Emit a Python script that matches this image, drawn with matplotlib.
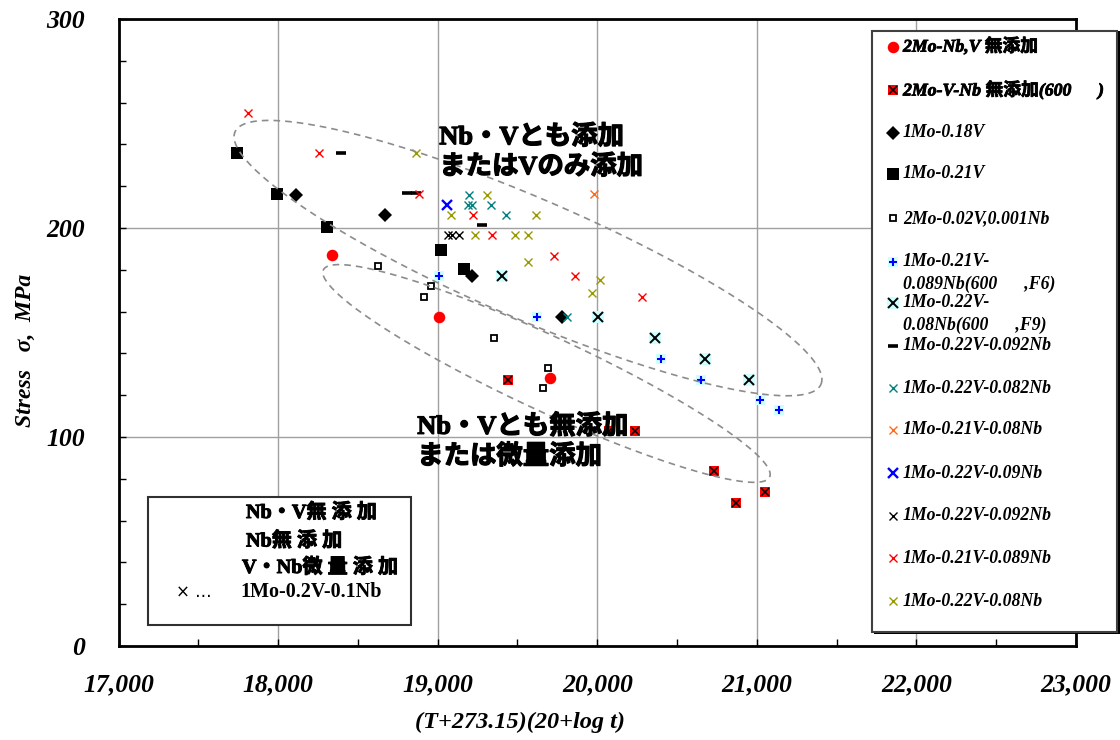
import numpy as np
import matplotlib.pyplot as plt
import matplotlib.patheffects as pe
from matplotlib.lines import Line2D
from matplotlib.patches import Rectangle
from matplotlib.ticker import MultipleLocator, FuncFormatter

SERIF = ['Liberation Serif', 'Noto Sans CJK JP']
BOLD = [pe.withStroke(linewidth=0.9, foreground='black')]

# Larson-Miller parameter (T+273.15)(20+log t) and rupture stress (MPa)
x_2mo_free = [18335, 19011, 19703]
y_2mo_free = [187, 157.6, 128]
x_2mo_free600 = [19440, 20076, 20239, 20731, 20867, 21049]
y_2mo_free600 = [127.5, 103, 103, 83.5, 68.4, 73.5]
x_018v = [18115, 18668, 19214, 19779]
y_018v = [216, 206, 177, 157.3]
x_021v = [17743, 17994, 18308, 19023, 19166]
y_021v = [236, 216.4, 200.4, 189.6, 180.2]
x_2mo_trace = [18628, 18957, 18915, 19350, 19689, 19663]
y_2mo_trace = [181.8, 172.3, 167.2, 147.5, 132.9, 123.3]
x_f6 = [19011, 19625, 20400, 20647, 21021, 21139]
y_f6 = [177, 157.3, 137.4, 127.5, 117.9, 112.7]
x_f9 = [19400, 20002, 20364, 20673, 20950]
y_f9 = [177, 157.3, 147.3, 137.4, 127.5]
x_092nb_a = [18392, 18810, 18862, 19277]
y_092nb_a = [236, 216.6, 216.6, 201.4]
x_082nb = [19197, 19187, 19214, 19333, 19427, 19810]
y_082nb = [216, 211, 211, 211, 206, 157.3]
x_021v_08nb = [19977]
y_021v_08nb = [216.4]
x_09nb = [19061]
y_09nb = [211]
x_092nb_b = [19067, 19092, 19134]
y_092nb_b = [196.5, 196.5, 196.5]
x_089nb = [17810, 18255, 18883, 19224, 19340, 19726, 19861, 20281]
y_089nb = [255, 236, 216.4, 206, 196.5, 186.4, 176.8, 166.9]
x_08nb = [18862, 19308, 19082, 19615, 19235, 19484, 19567, 19563, 20019, 19964]
y_08nb = [236, 216, 206, 206, 196.5, 196.5, 196.5, 183.8, 175, 168.8]

labels = ['2Mo-Nb,V 無添加', '2Mo-V-Nb 無添加(600      )', '1Mo-0.18V', '1Mo-0.21V',
          '2Mo-0.02V,0.001Nb', '1Mo-0.21V-\n0.089Nb(600      ,F6)',
          '1Mo-0.22V-\n0.08Nb(600      ,F9)', '1Mo-0.22V-0.092Nb', '1Mo-0.22V-0.082Nb',
          '1Mo-0.21V-0.08Nb', '1Mo-0.22V-0.09Nb', '1Mo-0.22V-0.092Nb',
          '1Mo-0.21V-0.089Nb', '1Mo-0.22V-0.08Nb']

xs = [x_2mo_free, x_2mo_free600, x_018v, x_021v, x_2mo_trace, x_f6, x_f9, x_092nb_a,
      x_082nb, x_021v_08nb, x_09nb, x_092nb_b, x_089nb, x_08nb]
ys = [y_2mo_free, y_2mo_free600, y_018v, y_021v, y_2mo_trace, y_f6, y_f9, y_092nb_a,
      y_082nb, y_021v_08nb, y_09nb, y_092nb_b, y_089nb, y_08nb]

# list of marker layers per series (drawn in order)
def xm(c, ms=6.3, mew=1.0):
    return [dict(marker='x', color=c, ms=ms, mew=mew)]

styles = [
    [dict(marker='o', color='#ff0000', ms=8.3, mew=0)],
    [dict(marker='s', color='#ff0000', ms=7.7, mew=0), dict(marker='x', color='black', ms=6, mew=1.1)],
    [dict(marker='D', color='black', ms=7.2, mew=0)],
    [dict(marker='s', color='black', ms=8, mew=0)],
    [dict(marker='s', color='black', mfc='white', ms=4.8, mew=1.3)],
    [dict(marker='s', color='#ccffff', ms=7.3, mew=0), dict(marker='+', color='#0000ff', ms=5.5, mew=1.5)],
    [dict(marker='s', color='#ccffff', ms=8.3, mew=0), dict(marker='x', color='black', ms=6.5, mew=1.4)],
    [dict(marker='_', color='black', ms=7.5, mew=2.6)],
    xm('#008080'), xm('#ff6a1a'), xm('#0000ff', 6.5, 1.7), xm('black'), xm('#ff0000'), xm('#999900'),
]

W, H = 1120, 740
fig = plt.figure(figsize=(W / 100, H / 100), dpi=100)
L, T, R, B = 118.5, 19, 1076, 646
ax = fig.add_axes([L / W, 1 - B / H, (R - L) / W, (B - T) / H])
ax.set_xlim(17000, 23000)
ax.set_ylim(0, 300)

ax.xaxis.set_major_locator(MultipleLocator(1000))
ax.xaxis.set_minor_locator(MultipleLocator(500))
ax.yaxis.set_major_locator(MultipleLocator(100))
ax.yaxis.set_minor_locator(MultipleLocator(20))
ax.xaxis.set_major_formatter(FuncFormatter(lambda v, p: f'{v:,.0f}'))
ax.grid(True, which='major', color='#a0a0a0', lw=1.0)
ax.tick_params(which='both', direction='in', length=5, width=1, color='black')
ax.tick_params(axis='x', which='major', pad=20)
ax.tick_params(axis='y', which='major', pad=24)
for lab in ax.get_xticklabels() + ax.get_yticklabels():
    lab.set_fontfamily(SERIF)
    lab.set_fontsize(18.5)
    lab.set_fontweight('bold')
    lab.set_fontstyle('italic')
for sp in ax.spines.values():
    sp.set_linewidth(2)

for x, y, st in zip(xs, ys, styles):
    for s in st:
        ax.plot(x, y, ls='none', marker=s['marker'], ms=s['ms'], mew=s['mew'],
                mec=s['color'], mfc=s.get('mfc', s['color']), zorder=3)

# dashed ellipses, size given in pixels, centre in data units
pos = ax.get_position()
sx = pos.width * W / 6000
sy = pos.height * H / 300

def ellipse(cx, cy, a, b, ang):
    t = np.linspace(0, 2 * np.pi, 400)
    th = np.radians(ang)
    u, v = a * np.cos(t), b * np.sin(t)
    dx = u * np.cos(th) - v * np.sin(th)
    dy = u * np.sin(th) + v * np.cos(th)
    ax.plot(cx + dx / sx, cy + dy / sy, color='#8c8c8c', lw=1.2, ls=(0, (4, 3)), zorder=4)

ellipse(19566, 185.6, 319, 60, -23.3)
ellipse(19682, 130.4, 246, 37, -24.9)

ax.text(19010, 236.5, 'Nb・Vとも添加\nまたはVのみ添加', family=SERIF, fontsize=19,
        fontweight='bold', va='center', ha='left', linespacing=1.25, zorder=5,
        path_effects=BOLD)
ax.text(18872, 98, 'Nb・Vとも無添加\nまたは微量添加', family=SERIF, fontsize=19,
        fontweight='bold', va='center', ha='left', linespacing=1.25, zorder=5,
        path_effects=BOLD)

fig.text(25 / W, 1 - 350 / H, 'Stress   σ,  MPa', rotation=90, family=SERIF, fontsize=17,
         fontweight='bold', fontstyle='italic', ha='center', va='center')
fig.text(520 / W, 1 - 722 / H, '(T+273.15)(20+log t)', family=SERIF, fontsize=17.5,
         fontweight='bold', fontstyle='italic', ha='center', va='center')

# right-hand legend box
fig.add_artist(Rectangle((874 / W, 1 - 634 / H), 246 / W, 603 / H, transform=fig.transFigure,
                         facecolor='black', edgecolor='none', zorder=5))
fig.add_artist(Rectangle((872 / W, 1 - 632 / H), 245 / W, 601 / H, transform=fig.transFigure,
                         facecolor='white', edgecolor='#404040', lw=1.5, zorder=6))
rows = [46.7, 90, 132.7, 174, 218.3, 261.7, 302.7, 346, 388.3, 430, 473.3, 516, 558.3, 601]
for ry, lab, st in zip(rows, labels, styles):
    for s in st:
        fig.add_artist(Line2D([893 / W], [1 - ry / H], transform=fig.transFigure, ls='none',
                              marker=s['marker'], ms=s['ms'], mew=s['mew'], mec=s['color'],
                              mfc=s.get('mfc', s['color']), zorder=7))
    for i, line in enumerate(lab.split('\n')):
        t = fig.text(903 / W, 1 - (ry + i * 22.5) / H, line, family=SERIF, fontsize=12.8,
                     fontweight='bold', fontstyle='italic', va='center', ha='left', zorder=7)
        if '無' in line:
            t.set_path_effects([pe.withStroke(linewidth=0.6, foreground='black')])

# small note box at lower left
fig.add_artist(Rectangle((148 / W, 1 - 625 / H), 263 / W, 128 / H, transform=fig.transFigure,
                         facecolor='white', edgecolor='#303030', lw=1.5, zorder=6))
notes = [(246, 513, 'Nb・V無 添 加'), (246, 541.5, 'Nb無 添 加'), (242, 568, 'V・Nb微 量 添 加'),
         (240, 592, '1Mo-0.2V-0.1Nb')]
for nx, ny, txt in notes:
    t = fig.text(nx / W, 1 - ny / H, txt, family=SERIF, fontsize=14.5, fontweight='bold',
                 va='center', ha='left', zorder=7)
    if 'Mo' not in txt:
        t.set_path_effects([pe.withStroke(linewidth=0.7, foreground='black')])
fig.text(176 / W, 1 - 592 / H, '× …', family=['DejaVu Sans'], fontsize=12,
         va='center', ha='left', zorder=7)

fig.savefig('out.png', dpi=100)
